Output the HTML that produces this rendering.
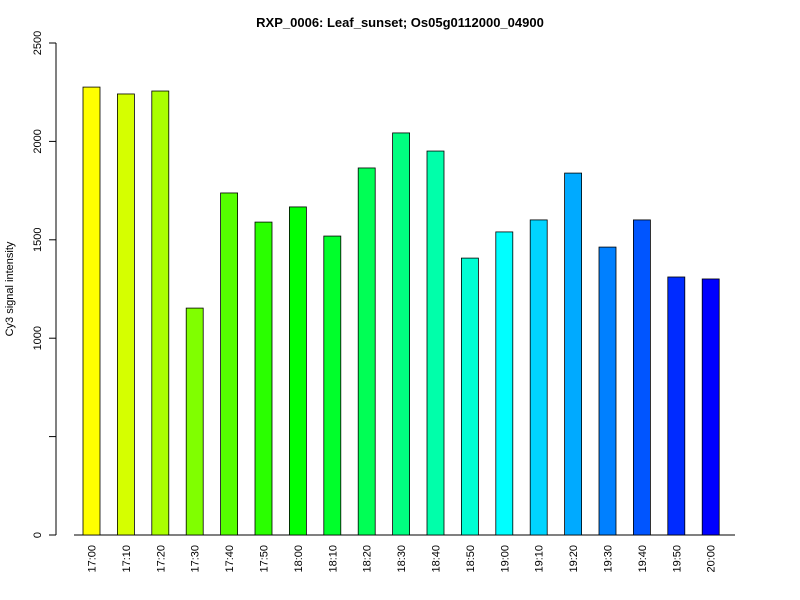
<!DOCTYPE html>
<html><head><meta charset="utf-8"><style>
body{margin:0;background:#fff;}
svg{display:block;font-family:"Liberation Sans",sans-serif;}
</style></head><body>
<svg id="chart" width="800" height="600">
<text x="400" y="27" text-anchor="middle" font-size="13" font-weight="bold">RXP_0006: Leaf_sunset; Os05g0112000_04900</text>
<text transform="translate(13,289) rotate(-90)" text-anchor="middle" font-size="11">Cy3 signal intensity</text>
<g id="yaxis"></g>
<g id="bars"></g>
<g id="xlabels"></g>
</svg>
<script>
const categories=["17:00","17:10","17:20","17:30","17:40","17:50","18:00","18:10","18:20","18:30","18:40","18:50","19:00","19:10","19:20","19:30","19:40","19:50","20:00"];
const values=[2276,2241,2256,1153,1738,1590,1667,1519,1865,2043,1951,1407,1540,1601,1839,1463,1601,1311,1301];
const yTicks=[0,500,1000,1500,2000,2500];
const yTickLabels=["0","","1000","1500","2000","2500"];
const NS="http://www.w3.org/2000/svg";
const y0=535,yTop=43,yMax=2500;
const y=v=>y0-(v/yMax)*(y0-yTop);
const x=i=>83+i*34.4;
const bw=17;
function mk(t,a,p){const e=document.createElementNS(NS,t);for(const k in a)e.setAttribute(k,a[k]);p.appendChild(e);return e;}
const ya=document.getElementById('yaxis');
const ax=mk('line',{x1:56,x2:56,y1:y(0),y2:y(yMax),stroke:'#000'},ya);


const bl=mk('line',{x1:74,x2:735,y1:y0,y2:y0,stroke:'#000'},ya);


yTicks.forEach((v,i)=>{
 const t=mk('line',{x1:49,x2:56,y1:y(v),y2:y(v),stroke:'#000'},ya);
 
 
 if(yTickLabels[i]){
  const l=mk('text',{transform:`translate(41,${y(v)}) rotate(-90)`,'text-anchor':'middle','font-size':11},ya);
  l.textContent=yTickLabels[i];
  
  
 }
});
const bg=document.getElementById('bars'),xl=document.getElementById('xlabels');
values.forEach((v,i)=>{
 const h=60+i*180/(values.length-1);
 const r=mk('rect',{x:x(i),y:y(v),width:bw,height:y0-y(v),fill:`hsl(${h},100%,50%)`,stroke:'#000','stroke-width':0.8},bg);
 
 
 const l=mk('text',{transform:`translate(${x(i)+bw/2+4},545) rotate(-90)`,'text-anchor':'end','font-size':11},xl);
 l.textContent=categories[i];
 
 
});
</script>
</body></html>
